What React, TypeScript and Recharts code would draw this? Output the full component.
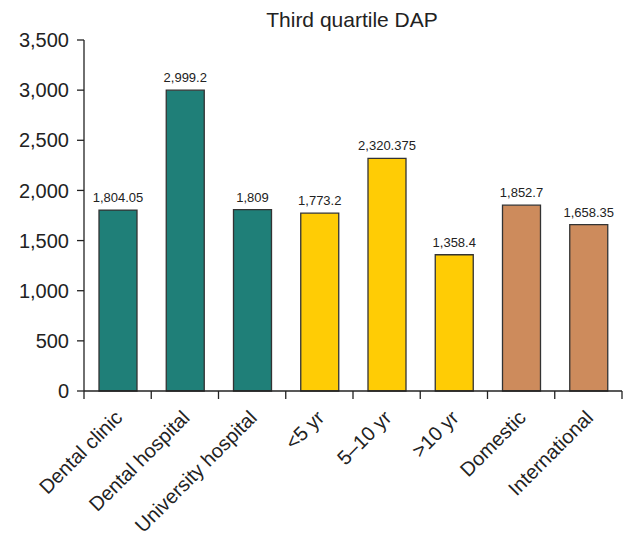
import React from "react";
import { Bar, BarChart, Cell, LabelList, XAxis, YAxis } from "recharts";

const categories = [
  "Dental clinic",
  "Dental hospital",
  "University hospital",
  "<5 yr",
  "5\u201310 yr",
  ">10 yr",
  "Domestic",
  "International",
];
const values = [1804.05, 2999.2, 1809, 1773.2, 2320.375, 1358.4, 1852.7, 1658.35];
const groups = ["a", "a", "a", "b", "b", "b", "c", "c"];
const yTicks = [0, 500, 1000, 1500, 2000, 2500, 3000, 3500];

const groupColors: Record<string, string> = {
  a: "#1f7f78",
  b: "#ffcc05",
  c: "#cd8b5c",
};

const data = categories.map((name, i) => ({ name, value: values[i], group: groups[i] }));

const W = 625;
const H = 537;
const LEFT = 84;
const RIGHT = 3;
const BAND = (W - LEFT - RIGHT) / categories.length;
const FONT = "Liberation Sans, Arial, sans-serif";

const fmt = (v: number) => v.toLocaleString("en-US", { maximumFractionDigits: 3 });

function CategoryTick(props: any) {
  const { x, y, payload, index } = props;
  const left = x - BAND / 2;
  const right = x + BAND / 2;
  const ax = x + 6;
  const ay = y + 20;
  return (
    <g>
      <line x1={left} y1={y - 8} x2={left} y2={y} stroke="#222" strokeWidth={1.3} />
      {index === categories.length - 1 && (
        <line x1={right} y1={y - 8} x2={right} y2={y} stroke="#222" strokeWidth={1.3} />
      )}
      <text
        x={ax}
        y={ay}
        transform={`rotate(-45, ${ax}, ${ay})`}
        textAnchor="end"
        fontSize={20}
        fill="#222"
        fontFamily={FONT}
      >
        {payload.value}
      </text>
    </g>
  );
}

export default function App() {
  return (
    <div style={{ position: "absolute", left: 0, top: 0, width: W, height: H, background: "#fff" }}>
      <div
        style={{
          position: "absolute",
          left: 352 - 200,
          width: 400,
          top: 7,
          textAlign: "center",
          fontFamily: FONT,
          fontSize: 21,
          lineHeight: "26px",
          color: "#222",
        }}
      >
        Third quartile DAP
      </div>
      <BarChart
        width={W}
        height={H}
        data={data}
        margin={{ top: 40, right: RIGHT, left: 0, bottom: 0 }}
        barSize={38}
      >
        <XAxis
          dataKey="name"
          interval={0}
          height={146}
          axisLine={{ stroke: "#222", strokeWidth: 1.3 }}
          tickLine={false}
          tickSize={8}
          tickMargin={0}
          tick={<CategoryTick />}
        />
        <YAxis
          width={LEFT}
          domain={[0, 3500]}
          ticks={yTicks}
          tickFormatter={fmt}
          axisLine={{ stroke: "#222", strokeWidth: 1.3 }}
          tickLine={{ stroke: "#222", strokeWidth: 1.3 }}
          tickSize={7}
          tickMargin={8}
          tick={{ fontSize: 20, fill: "#222", fontFamily: FONT }}
        />
        <Bar dataKey="value" stroke="#333" strokeWidth={1.3} isAnimationActive={false}>
          {data.map((d, i) => (
            <Cell key={i} fill={groupColors[d.group]} />
          ))}
          <LabelList
            dataKey="value"
            position="top"
            offset={8}
            formatter={(v: any) => fmt(Number(v))}
            style={{ fontSize: 13, fill: "#222", fontFamily: FONT }}
          />
        </Bar>
      </BarChart>
    </div>
  );
}
